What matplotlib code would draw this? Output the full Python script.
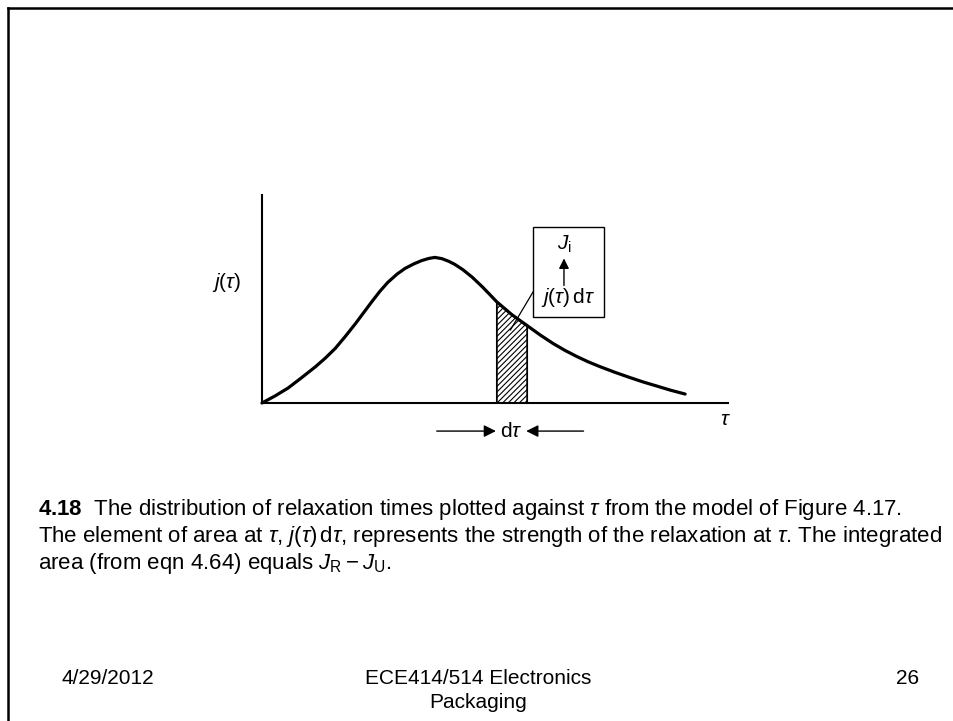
import numpy as np
import matplotlib
matplotlib.use("Agg")
import matplotlib.pyplot as plt
from matplotlib.lines import Line2D
from matplotlib.patches import Rectangle

plt.rcParams["font.family"] = ["Liberation Sans", "DejaVu Sans"]
plt.rcParams["mathtext.fontset"] = "custom"
plt.rcParams["mathtext.rm"] = "Liberation Sans"
plt.rcParams["mathtext.it"] = "Liberation Sans:italic"
plt.rcParams["mathtext.bf"] = "Liberation Sans:bold"
plt.rcParams["hatch.linewidth"] = 0.8

# relaxation time distribution j(tau), arbitrary units
tau = [0.00, 0.28, 0.56, 0.84, 1.14, 1.35, 1.57, 1.78, 2.00, 2.19,
       2.36, 2.53, 2.70, 2.90, 3.07, 3.26, 3.43, 3.58, 3.71, 3.86,
       4.01, 4.14, 4.31, 4.51, 4.74, 5.04, 5.36, 5.69, 5.97, 6.24,
       6.50, 6.76, 7.00, 7.25, 7.58, 7.90, 8.18, 8.48, 8.76, 9.08]
j_tau = [0.000, 0.034, 0.072, 0.120, 0.173, 0.214, 0.262, 0.318, 0.380, 0.437,
         0.488, 0.537, 0.580, 0.620, 0.647, 0.669, 0.685, 0.695, 0.700, 0.694,
         0.681, 0.666, 0.641, 0.605, 0.556, 0.486, 0.425, 0.372, 0.327, 0.287,
         0.253, 0.223, 0.198, 0.175, 0.147, 0.122, 0.101, 0.081, 0.062, 0.043]

# element of area d(tau)
strip_lo, strip_hi = 5.04, 5.69

W, H = 954, 721
fig = plt.figure(figsize=(W / 100, H / 100), dpi=100)


def fx(px):
    return px / W


def fy(py):
    return 1 - py / H


# slide frame
fig.add_artist(Line2D([fx(8), fx(8)], [fy(8), 0], color="black", lw=1.8))
fig.add_artist(Line2D([fx(8), 1], [fy(8), fy(8)], color="black", lw=1.8))

ax = fig.add_axes([fx(262), fy(403), fx(728) - fx(262), fy(195) - fy(403)])
ax.set_xlim(0, 10)
ax.set_ylim(0, 1)
for s in ["top", "right"]:
    ax.spines[s].set_visible(False)
for s in ["left", "bottom"]:
    ax.spines[s].set_linewidth(1.5)
ax.set_xticks([])
ax.set_yticks([])
ax.patch.set_alpha(0)

sel = [i for i, t in enumerate(tau) if strip_lo <= t <= strip_hi]
ax.fill_between([tau[i] for i in sel], 0, [j_tau[i] for i in sel],
                facecolor="white", edgecolor="black", hatch="//////", lw=1.3)
ax.plot(tau, j_tau, color="black", lw=2.3, solid_capstyle="round",
        solid_joinstyle="round", clip_on=False)

ax.text(-0.75, 0.58, "$j(\\tau)$", fontsize=15, ha="center", va="center")
ax.text(9.95, -0.08, "$\\tau$", fontsize=15, ha="center", va="center")

# d(tau) arrows below the axis
arrow = dict(arrowstyle="-|>", color="black", lw=1.0,
             mutation_scale=18, shrinkA=0, shrinkB=0)
ax.annotate("", xy=(5.02, -0.135), xytext=(3.75, -0.135),
            annotation_clip=False, arrowprops=arrow)
ax.annotate("", xy=(5.67, -0.135), xytext=(6.9, -0.135),
            annotation_clip=False, arrowprops=arrow)
ax.text(5.34, -0.135, "d$\\tau$", fontsize=15, ha="center", va="center")

# callout box for J_i
ax.add_patch(Rectangle((5.82, 0.413), 1.52, 0.433, facecolor="white",
                       edgecolor="black", lw=1.0, clip_on=False))
ax.text(6.48, 0.765, "$J_{\\mathrm{i}}$", fontsize=15, ha="center",
        va="center")
ax.annotate("", xy=(6.48, 0.695), xytext=(6.48, 0.565),
            annotation_clip=False,
            arrowprops=dict(arrowstyle="-|>", color="black", lw=1.0,
                            mutation_scale=15, shrinkA=0, shrinkB=0))
ax.text(6.57, 0.506, "$j(\\tau)\\,\\mathrm{d}\\tau$", fontsize=15,
        ha="center", va="center")
ax.plot([5.82, 5.33], [0.535, 0.351], color="black", lw=0.9, clip_on=False)

caption = [
    "$\\mathbf{4.18}$  The distribution of relaxation times plotted against "
    "$\\tau$ from the model of Figure 4.17.",
    "The element of area at $\\tau$, $j(\\tau)\\,\\mathrm{d}\\tau$, represents "
    "the strength of the relaxation at $\\tau$. The integrated",
    "area (from eqn 4.64) equals $J_{\\mathrm{R}} - J_{\\mathrm{U}}$.",
]
for k, line in enumerate(caption):
    fig.text(fx(38), fy(510 + 26.5 * k), line, fontsize=16, ha="left",
             va="center")

fig.text(fx(108), fy(678), "4/29/2012", fontsize=15, ha="center", va="center")
fig.text(fx(478), fy(678), "ECE414/514 Electronics", fontsize=15,
         ha="center", va="center")
fig.text(fx(478), fy(702), "Packaging", fontsize=15, ha="center", va="center")
fig.text(fx(908), fy(678), "26", fontsize=15, ha="center", va="center")

fig.savefig("out.png", dpi=100, facecolor="white")
